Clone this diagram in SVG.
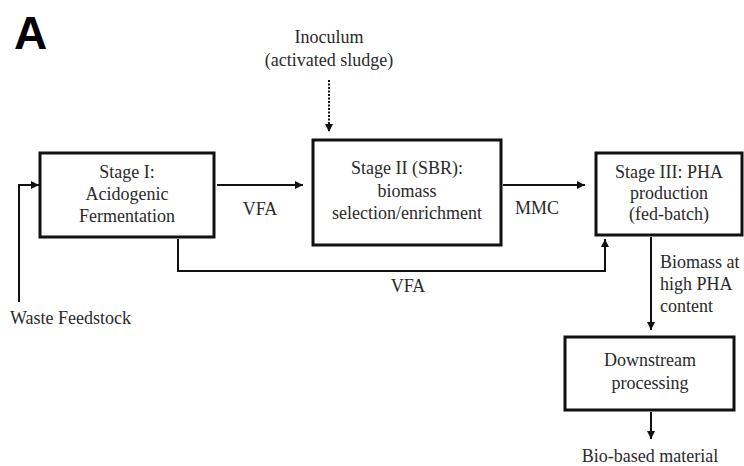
<svg xmlns="http://www.w3.org/2000/svg" width="744" height="466" viewBox="0 0 744 466">
<defs>
<style>
.box{fill:#fff;stroke:#111;stroke-width:3}
.t{font-family:"Liberation Serif","Times New Roman",serif;font-size:18px;fill:#2a2a2a}
.c{text-anchor:middle}
.ln{fill:none;stroke:#111;stroke-width:2}
.dash{fill:none;stroke:#111;stroke-width:2;stroke-dasharray:2 1.5}
</style>
<marker id="ah" viewBox="0 0 10 10" refX="10" refY="5" markerWidth="8" markerHeight="8" markerUnits="userSpaceOnUse" orient="auto">
<path d="M0,0 L10,5 L0,10 z" fill="#111"/>
</marker>
</defs>
<rect width="744" height="466" fill="#fff"/>
<text x="14" y="49" font-family="Liberation Sans,Arial,sans-serif" font-weight="bold" font-size="46" fill="#000">A</text>
<g id="connectors">
<path class="ln" d="M19,302 V185 H39" marker-end="url(#ah)"/>
<path class="ln" d="M217,185 H303" marker-end="url(#ah)"/>
<path class="ln" d="M503,185 H585" marker-end="url(#ah)"/>
<path class="ln" d="M178,239 V271 H605 V239" marker-end="url(#ah)"/>
<path class="dash" d="M329,80 V132" marker-end="url(#ah)"/>
<path class="ln" d="M651,237 V330" marker-end="url(#ah)"/>
<path class="ln" d="M651,412 V439" marker-end="url(#ah)"/>
<text class="t c" x="260" y="215">VFA</text>
<text class="t c" x="537" y="214">MMC</text>
<text class="t c" x="408" y="292">VFA</text>
<text class="t" x="660" y="268">Biomass at</text>
<text class="t" x="660" y="290">high PHA</text>
<text class="t" x="660" y="312">content</text>
</g>
<g id="waste-feedstock">
<text class="t" x="10" y="324">Waste Feedstock</text>
</g>
<g id="inoculum">
<text class="t c" x="329" y="43">Inoculum</text>
<text class="t c" x="329" y="66">(activated sludge)</text>
</g>
<g id="stage1">
<rect class="box" x="40" y="153" width="174" height="84"/>
<text class="t c" x="127" y="178">Stage I:</text>
<text class="t c" x="127" y="200">Acidogenic</text>
<text class="t c" x="127" y="222">Fermentation</text>
</g>
<g id="stage2">
<rect class="box" x="313" y="140" width="188" height="105"/>
<text class="t c" x="407" y="174">Stage II (SBR):</text>
<text class="t c" x="407" y="197">biomass</text>
<text class="t c" x="407" y="219">selection/enrichment</text>
</g>
<g id="stage3">
<rect class="box" x="596" y="153" width="146" height="82"/>
<text class="t c" x="669" y="178">Stage III: PHA</text>
<text class="t c" x="669" y="199">production</text>
<text class="t c" x="669" y="220">(fed-batch)</text>
</g>
<g id="downstream">
<rect class="box" x="565" y="337" width="169" height="73"/>
<text class="t c" x="650" y="366">Downstream</text>
<text class="t c" x="650" y="389">processing</text>
</g>
<g id="bio-based">
<text class="t c" x="650" y="462">Bio-based material</text>
</g>
</svg>
